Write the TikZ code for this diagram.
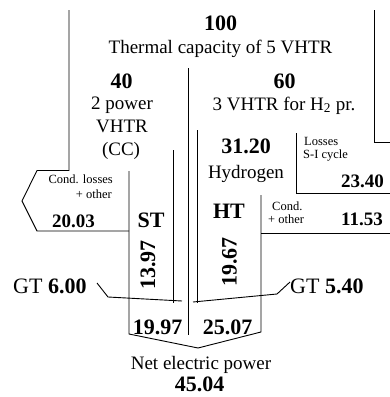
\documentclass[tikz,border=0pt]{standalone}
\usepackage{fontspec}
\setmainfont{Liberation Serif}
\begin{document}
\begin{tikzpicture}[x=1pt,y=-1pt,
  reg/.style={font=\fontsize{19}{23}\selectfont, inner sep=0pt},
  gt/.style={font=\fontsize{22}{26}\selectfont, inner sep=0pt},
  num/.style={font=\fontsize{22}{26}\selectfont\bfseries, inner sep=0pt},
  mid/.style={font=\fontsize{19}{23}\selectfont\bfseries, inner sep=0pt},
  tiny/.style={font=\fontsize{12.5}{15}\selectfont, inner sep=0pt},
  flow/.style={line width=0.9pt, line join=miter}]
\useasboundingbox (0,0) rectangle (390,397);

% flow lines
\draw[flow] (69,10) -- (69,170.5) -- (37,170.5) -- (22,201) -- (37,231) -- (129,231);
\draw[flow] (129,171) -- (129,334) -- (198,348) -- (261,332) -- (261,195);
\draw[flow] (261,233) -- (390,233);
\draw[flow] (374,10) -- (374,142) -- (390,142);
\draw[flow] (296,133) -- (296,193) -- (390,193);
\draw[flow] (188,68) -- (188,335);
\draw[flow] (173,150) -- (173,303);
\draw[flow] (197,130) -- (197,303);
\draw[flow] (97,283) -- (108,297) -- (182,301);
\draw[flow] (193,302) -- (277,294) -- (290,282);

% texts
\node[num, anchor=base] (t100) at (220.5,30) {100};
\node[reg, anchor=base] (tcap) at (220.5,53) {Thermal capacity of 5 VHTR};
\node[num, anchor=base] (t40) at (121.5,88) {40};
\node[reg, anchor=base] (tpow) at (122,109) {2 power};
\node[reg, anchor=base] (tvhtr) at (122,132) {VHTR};
\node[reg, anchor=base] (tcc) at (121,155) {(CC)};
\node[num, anchor=base] (t60) at (284.5,88) {60};
\node[reg, anchor=base] (th2) at (284,110) {3 VHTR for H\textsubscript{2} pr.};
\node[num, anchor=base] (t3120) at (246,153) {31.20};
\node[reg, anchor=base] (thyd) at (246,178) {Hydrogen};
\node[tiny, anchor=base west] (tloss) at (304,145) {Losses};
\node[tiny, anchor=base west] (tsi) at (303,158) {S-I cycle};
\node[mid, anchor=base east] (t2340) at (384,187) {23.40};
\node[tiny, anchor=base west] (tcond2) at (272,210) {Cond.};
\node[tiny, anchor=base west] (tother2) at (268,223) {+ other};
\node[mid, anchor=base east] (t1153) at (383,225) {11.53};
\node[tiny, anchor=base east] (tcond1) at (113,183) {Cond. losses};
\node[tiny, anchor=base east] (tother1) at (112,198) {+ other};
\node[mid, anchor=base] (t2003) at (73.5,227) {20.03};
\node[num, anchor=base] (tst) at (151,227) {ST};
\node[num, anchor=base] (tht) at (229,218) {HT};
\node[num, rotate=90] (t1397) at (148,265) {13.97};
\node[num, rotate=90] (t1967) at (229.5,262) {19.67};
\node[gt, anchor=base west] (tgt1) at (13,293) {GT \bfseries 6.00};
\node[gt, anchor=base west] (tgt2) at (290,293) {GT \bfseries 5.40};
\node[num, anchor=base] (t1997) at (157.5,334) {19.97};
\node[num, anchor=base] (t2507) at (227.5,334) {25.07};
\node[reg, anchor=base] (tnet) at (201,369) {Net electric power};
\node[num, anchor=base] (t4504) at (199.5,391) {45.04};
\end{tikzpicture}
\end{document}
